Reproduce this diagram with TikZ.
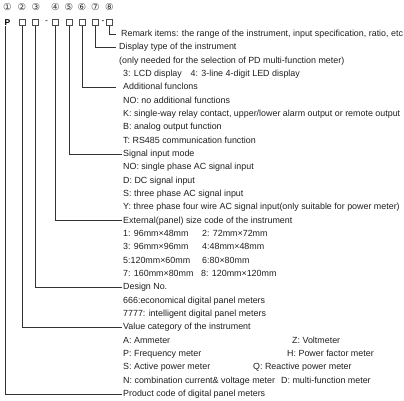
\documentclass[tikz,border=0pt]{standalone}
\usepackage{fontspec}
\setmainfont{Liberation Sans}
\newfontfamily\circfont{DejaVu Sans}
\usetikzlibrary{positioning}

\begin{document}
\begin{tikzpicture}[
        x=1pt, y=-1pt,
        txt/.style={
            anchor=west,
            inner sep=1pt,
            text height=6.4pt,
            text depth=1.8pt,
            text=black!88,
            font=\fontsize{8.9}{10}\selectfont
        },
        num/.style={inner sep=0pt, font=\circfont\fontsize{9.5}{10}\selectfont, text=black!80},
        slot/.style={rectangle, draw=black!70, line width=0.5pt, minimum size=6pt, inner sep=0pt},
        conn/.style={draw=black!80, line width=0.7pt}
    ]
    \useasboundingbox (0,0) rectangle (404,400);

    % code digits
    \node[num] (c1) at (7.5,7) {①};
    \node[num] (c2) at (22,7) {②};
    \node[num] (c3) at (36,7) {③};
    \node[num] (c4) at (55.5,7) {④};
    \node[num] (c5) at (69,7) {⑤};
    \node[num] (c6) at (82,7) {⑥};
    \node[num] (c7) at (95.5,7) {⑦};
    \node[num] (c8) at (109.5,7) {⑧};

    \node[inner sep=0pt, font=\bfseries\fontsize{8.5}{9}\selectfont] (p) at (7.5,22.5) {P};
    \node[slot] (b2) at (22,22.5) {};
    \node[slot] (b3) at (35.5,22.5) {};
    \node[inner sep=0pt, font=\fontsize{8.5}{9}\selectfont] (d1) at (46.5,22) {-};
    \node[slot] (b4) at (55.5,22.5) {};
    \node[slot] (b5) at (69,22.5) {};
    \node[slot] (b6) at (82,22.5) {};
    \node[slot] (b7) at (95.5,22.5) {};
    \node[inner sep=0pt, font=\fontsize{8.5}{9}\selectfont] (d2) at (103,22) {-};
    \node[slot] (b8) at (109.5,22.5) {};

    % descriptions
    \node[txt] (remark) at (120,34) {Remark items: the range of the instrument, input specification, ratio, etc};
    \node[txt] (display) at (118,47.3) {Display type of the instrument};
    \node[txt] (pdnote) at (118,60.7) {(only needed for the selection of PD multi-function meter)};
    \node[txt] (lcd) at (122,74) {3: LCD display};
    \node[txt] (led) at (189.5,74) {4: 3-line 4-digit LED display};
    \node[txt] (addfun) at (122,87.3) {Additional funclons};
    \node[txt] (addno) at (122,100.7) {NO: no additional functions};
    \node[txt] (addk) at (122,114) {K: single-way relay contact, upper/lower alarm output or remote output};
    \node[txt] (addb) at (122,127.3) {B: analog output function};
    \node[txt] (addt) at (122,140.7) {T: RS485 communication function};
    \node[txt] (signal) at (122,154) {Signal input mode};
    \node[txt] (signo) at (122,167.3) {NO: single phase AC signal input};
    \node[txt] (sigd) at (122,180.7) {D: DC signal input};
    \node[txt] (sigs) at (122,194) {S: three phase AC signal input};
    \node[txt] (sigy) at (122,207.3) {Y: three phase four wire AC signal input(only suitable for power meter)};
    \node[txt] (size) at (122,220.7) {External(panel) size code of the instrument};
    \node[txt] (size1) at (122,234) {1: 96mm×48mm};
    \node[txt] (size2) at (201,234) {2: 72mm×72mm};
    \node[txt] (size3) at (122,247.3) {3: 96mm×96mm};
    \node[txt] (size4) at (201,247.3) {4:48mm×48mm};
    \node[txt] (size5) at (122,260.7) {5:120mm×60mm};
    \node[txt] (size6) at (201,260.7) {6:80×80mm};
    \node[txt] (size7) at (122,274) {7: 160mm×80mm};
    \node[txt] (size8) at (200,274) {8: 120mm×120mm};
    \node[txt] (design) at (122,287.3) {Design No.};
    \node[txt] (des666) at (122,300.7) {666:economical digital panel meters};
    \node[txt] (des7777) at (122,314) {7777: intelligent digital panel meters};
    \node[txt] (valcat) at (122,327.3) {Value category of the instrument};
    \node[txt] (vala) at (122,340.7) {A: Ammeter};
    \node[txt] (valz) at (291,340.7) {Z: Voltmeter};
    \node[txt] (valp) at (122,354) {P: Frequency meter};
    \node[txt] (valh) at (286,354) {H: Power factor meter};
    \node[txt] (vals) at (122,367.3) {S: Active power meter};
    \node[txt] (valq) at (252,367.3) {Q: Reactive power meter};
    \node[txt] (valn) at (122,380.7) {N: combination current\& voltage meter};
    \node[txt] (vald) at (280,380.7) {D: multi-function meter};
    \node[txt] (product) at (122,394) {Product code of digital panel meters};

    % leaders
    \draw[conn] (b8.south) |- ([xshift=-4pt]remark.west);
    \draw[conn] (b7.south) |- ([xshift=-2pt]display.west);
    \draw[conn] (b6.south) |- ([xshift=-6pt]addfun.west);
    \draw[conn] (b5.south) |- (signal.west);
    \draw[conn] (b4.south) |- (size.west);
    \draw[conn] (b3.south) |- (design.west);
    \draw[conn] (b2.south) |- (valcat.west);
    \draw[conn] ([xshift=0.5pt]p.south west) |- (product.west);

\end{tikzpicture}
\end{document}
